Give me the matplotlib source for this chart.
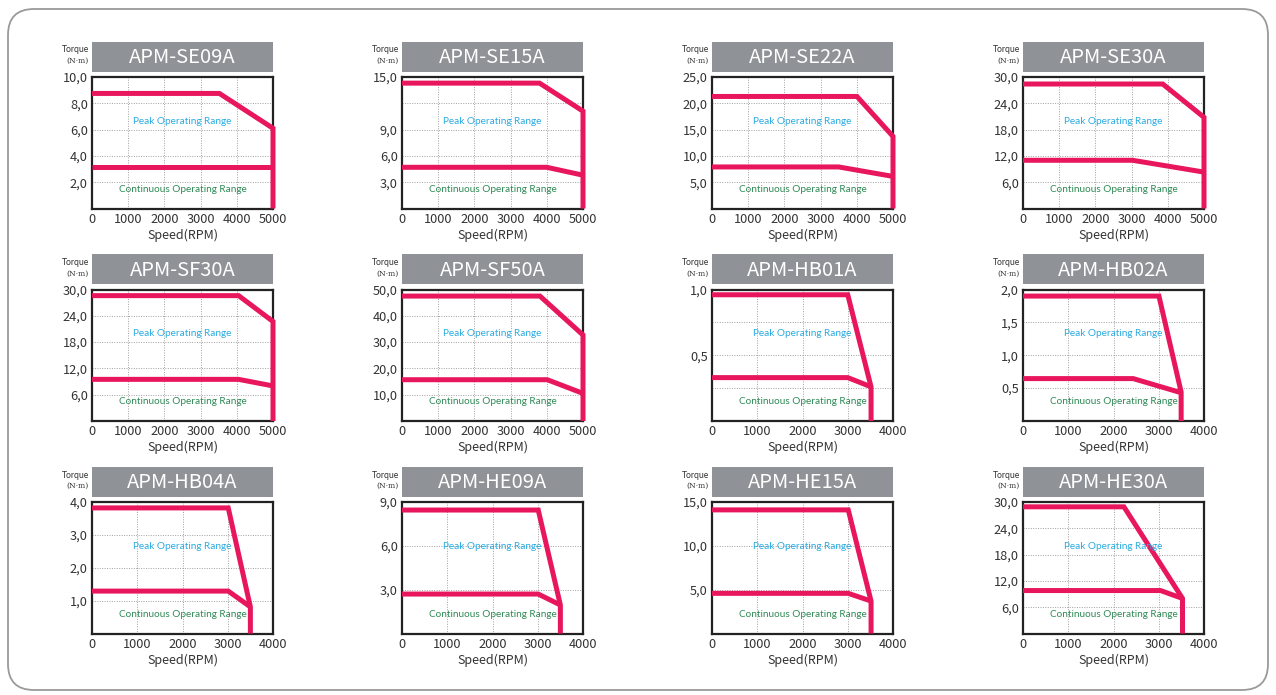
import matplotlib
matplotlib.use("Agg")
import matplotlib.pyplot as plt
from matplotlib.patches import FancyBboxPatch, Rectangle
from matplotlib.transforms import IdentityTransform

# ---------------- data ----------------
models = ["APM-SE09A", "APM-SE15A", "APM-SE22A", "APM-SE30A",
          "APM-SF30A", "APM-SF50A", "APM-HB01A", "APM-HB02A",
          "APM-HB04A", "APM-HE09A", "APM-HE15A", "APM-HE30A"]
x_max = [5000, 5000, 5000, 5000, 5000, 5000, 4000, 4000, 4000, 4000, 4000, 4000]
y_max = [10, 15, 25, 30, 30, 50, 1.0, 2.0, 4.0, 9.0, 15, 30]
y_ticks = [[2, 4, 6, 8, 10], [3, 6, 9, 15], [5, 10, 15, 20, 25], [6, 12, 18, 24, 30],
           [6, 12, 18, 24, 30], [10, 20, 30, 40, 50], [0.5, 1.0], [0.5, 1.0, 1.5, 2.0],
           [1, 2, 3, 4], [3, 6, 9], [5, 10, 15], [6, 12, 18, 24, 30]]
y_grid = [[2, 4, 6, 8], [3, 6, 9, 12], [5, 10, 15, 20], [6, 12, 18, 24],
          [6, 12, 18, 24], [10, 20, 30, 40], [0.25, 0.5, 0.75], [0.5, 1.0, 1.5],
          [1, 2, 3], [3, 6], [5, 10], [6, 12, 18, 24]]
# peak torque curve: flat value, knee speed, max speed, torque at max speed
peak_torque = [8.75, 14.3, 21.3, 28.4, 28.6, 47.5, 0.96, 1.90, 3.82, 8.45, 14.1, 28.9]
peak_knee = [3520, 3800, 4005, 3860, 4050, 3810, 3000, 3004, 3011, 3011, 3011, 2230]
max_speed = [5000, 5000, 5000, 5000, 5000, 5000, 3515, 3495, 3500, 3500, 3515, 3525]
peak_end = [6.1, 11.1, 13.7, 20.8, 22.7, 32.7, 0.26, 0.44, 0.81, 1.95, 3.7, 8.0]
# continuous torque curve
cont_torque = [3.15, 4.7, 7.9, 11.0, 9.5, 15.7, 0.33, 0.645, 1.29, 2.70, 4.58, 9.8]
cont_knee = [5000, 4000, 3500, 3030, 4050, 4013, 3000, 2435, 3011, 3011, 3011, 3040]
cont_end = [3.15, 3.8, 6.1, 8.3, 8.0, 10.5, 0.26, 0.43, 0.81, 1.95, 3.7, 8.0]

x_label = "Speed(RPM)"
y_label = ["Torque", "(N·m)"]
peak_text = "Peak Operating Range"
cont_text = "Continuous Operating Range"

# ---------------- style ----------------
W, H = 1276, 695
LINE = "#e8175d"
BOX = "#8f9296"
TXT = "#333333"
FONT = ["Noto Sans CJK KR", "DejaVu Sans"]
NARROW = ["Lato", "DejaVu Sans"]

fig = plt.figure(figsize=(W / 100, H / 100), dpi=100)
fig.patch.set_facecolor("white")

# outer rounded frame (pixel coordinates, origin bottom-left)
frame = FancyBboxPatch((8, 5), W - 16, H - 14,
                       boxstyle="round,pad=0,rounding_size=26",
                       transform=IdentityTransform(), facecolor="none",
                       edgecolor="#9a9a9a", linewidth=1.3)
fig.patches.append(frame)

col_left = [92, 402, 712, 1023]
row_top = [77, 289.5, 502]
ax_w, ax_h = 181, 131.5

for i, name in enumerate(models):
    r, c = divmod(i, 4)
    left = col_left[c]
    top = row_top[r]
    ax = fig.add_axes([left / W, 1 - (top + ax_h) / H, ax_w / W, ax_h / H])
    xm, ym = x_max[i], y_max[i]
    ax.set_xlim(0, xm)
    ax.set_ylim(0, ym)

    # grid
    for gx in range(1000, xm, 1000):
        ax.axvline(gx, color="#a0a0a0", lw=0.7, ls=(0, (1, 1.5)), zorder=1)
    for gy in y_grid[i]:
        ax.axhline(gy, color="#a0a0a0", lw=0.7, ls=(0, (1, 1.5)), zorder=1)

    # curves
    px = [0, peak_knee[i], max_speed[i], max_speed[i]]
    py = [peak_torque[i], peak_torque[i], peak_end[i], 0]
    ax.plot(px, py, color=LINE, lw=3.6, solid_joinstyle="miter",
            solid_capstyle="butt", clip_on=False, zorder=5)
    cx = [0, cont_knee[i], max_speed[i]]
    cy = [cont_torque[i], cont_torque[i], cont_end[i]]
    ax.plot(cx, cy, color=LINE, lw=3.6, solid_joinstyle="miter",
            solid_capstyle="butt", clip_on=False, zorder=5)

    ax.text(0.5, 0.665, peak_text, transform=ax.transAxes, ha="center", va="center",
            color="#29abe2", fontsize=7.2, family=NARROW, zorder=6)
    ax.text(0.5, 0.145, cont_text, transform=ax.transAxes, ha="center", va="center",
            color="#2f8a55", fontsize=7.2, family=NARROW, zorder=6)

    # ticks
    xt = list(range(0, xm + 1, 1000))
    ax.set_xticks(xt)
    ax.set_xticklabels([str(v) for v in xt], fontsize=9.2, color=TXT, family=FONT)
    ax.set_yticks(y_ticks[i])
    ax.set_yticklabels([f"{v:.1f}".replace(".", ",") for v in y_ticks[i]],
                       fontsize=9.2, color=TXT, family=FONT)
    ax.tick_params(length=0, pad=3)
    ax.tick_params(axis="x", pad=3)
    for s in ax.spines.values():
        s.set_linewidth(1.6)
        s.set_color("#222222")
    ax.set_xlabel(x_label, fontsize=9, color=TXT, family=FONT, labelpad=2)

    # title box
    box_top = top - 35
    fig.patches.append(Rectangle((left / W, 1 - (box_top + 30) / H), ax_w / W, 30 / H,
                                 transform=fig.transFigure, facecolor=BOX,
                                 edgecolor="none"))
    fig.text((left + ax_w / 2) / W, 1 - (box_top + 15.5) / H, name, ha="center",
             va="center", color="white", fontsize=14.5, fontweight="light",
             family=FONT)
    # axis unit label
    fig.text((left - 3) / W, 1 - (box_top + 8) / H, y_label[0], ha="right",
             va="center", color=TXT, fontsize=6.2, family=NARROW)
    fig.text((left - 3) / W, 1 - (box_top + 19) / H, y_label[1], ha="right",
             va="center", color=TXT, fontsize=5.5, family=["DejaVu Serif"])

fig.savefig("out.png", dpi=100)
